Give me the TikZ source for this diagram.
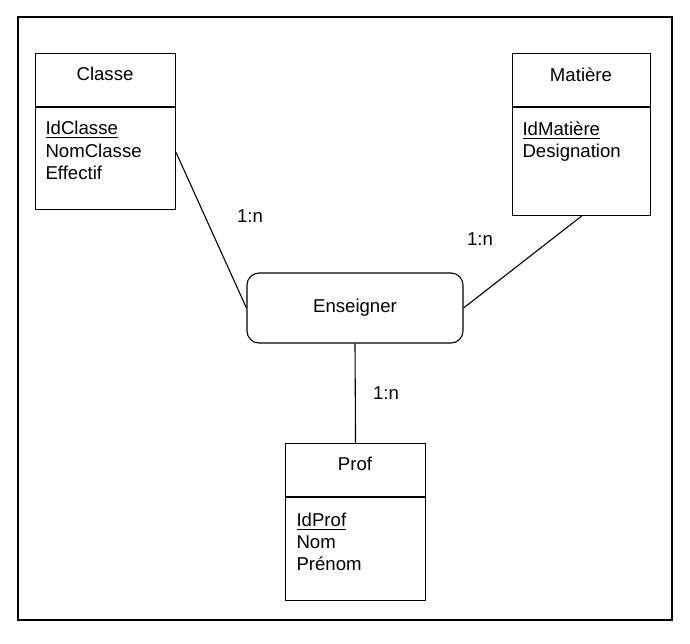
\documentclass[tikz,border=0pt]{standalone}
\usepackage{fontspec}
\setmainfont{Liberation Sans}
\usetikzlibrary{arrows.meta,calc,positioning}

\begin{document}
\begin{tikzpicture}[x=0.5pt,y=-0.5pt,line width=0.55pt,
  entite/.style={draw,anchor=north west,inner sep=0pt,minimum width=70pt},
  titre/.style={anchor=base,inner sep=0pt,font=\fontsize{9.3}{11}\selectfont},
  attr/.style={anchor=base west,inner sep=0pt,font=\fontsize{9.3}{11}\selectfont},
  card/.style={inner sep=0pt,font=\fontsize{9.3}{11}\selectfont}]
  \useasboundingbox (0,0) rectangle (690,643);
  \draw (18,17) rectangle (672,620);

  % Classe
  \node[entite,minimum height=78pt] (classe) at (35,53) {};
  \coordinate (classe-sep) at (35,107);
  \draw (classe-sep) -- (classe-sep -| classe.east);
  \node[titre] (classe-titre) at (105,80) {Classe};
  \foreach \a [count=\i] in {\underline{IdClasse},NomClasse,Effectif}
    \node[attr] (classe-a\i) at (45,112+22.5*\i) {\a};

  % Matiere
  \node[entite,minimum width=69pt,minimum height=81pt] (matiere) at (512,53) {};
  \coordinate (matiere-sep) at (512,107);
  \draw (matiere-sep) -- (matiere-sep -| matiere.east);
  \node[titre] (matiere-titre) at (581,81) {Matière};
  \foreach \a [count=\i] in {\underline{IdMatière},Designation}
    \node[attr] (matiere-a\i) at (522,112.5+22.5*\i) {\a};

  % Prof
  \node[entite,minimum height=78.5pt] (prof) at (285,443) {};
  \coordinate (prof-sep) at (285,497);
  \draw (prof-sep) -- (prof-sep -| prof.east);
  \node[titre] (prof-titre) at (355,470) {Prof};
  \foreach \a [count=\i] in {\underline{IdProf},Nom,Prénom}
    \node[attr] (prof-a\i) at (296,504+22*\i) {\a};

  % association
  \node[draw,rounded corners=6pt,minimum width=108pt,minimum height=35pt,inner sep=0pt,
    font=\fontsize{9.3}{11}\selectfont] (enseigner) at (355,308) {Enseigner};

  \draw ([yshift=-10.5pt]classe.east) -- (enseigner.west);
  \draw (matiere.south) -- (enseigner.east);
  \draw (enseigner.south) -- (prof.north);

  \node[card] (card-classe) at (250,216) {1:n};
  \node[card] (card-matiere) at (480,239) {1:n};
  \node[card] (card-prof) at (386,393) {1:n};
\end{tikzpicture}
\end{document}
